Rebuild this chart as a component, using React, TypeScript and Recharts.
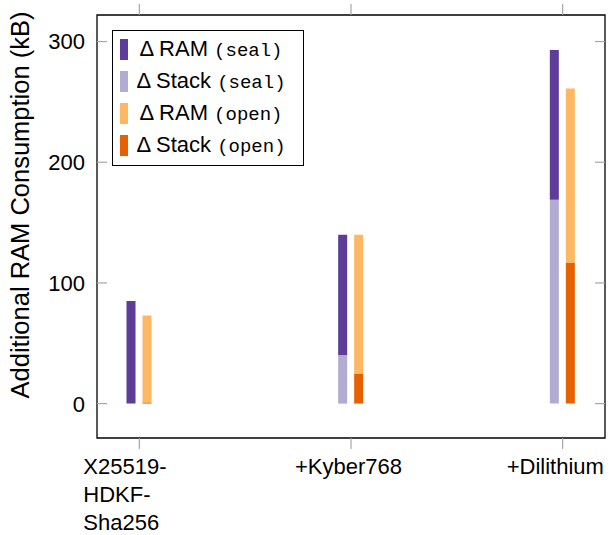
import { BarChart, Bar, XAxis, YAxis, ReferenceArea } from 'recharts'

// values (kB)
const categories = [['X25519-', 'HDKF-', 'Sha256'], ['+Kyber768'], ['+Dilithium']]
const ramSeal = [85, 140, 293]
const stackSeal = [0, 40, 169]
const ramOpen = [73, 140, 261]
const stackOpen = [1, 25, 117]

const xTicks = [0, 1, 2]
const yTicks = [0, 100, 200, 300]
const xDomain = [-0.2, 2.2]
const yDomain = [-28.5, 322]

const C_RAM_SEAL = '#5e3c99'
const C_STACK_SEAL = '#b2abd2'
const C_RAM_OPEN = '#fdb863'
const C_STACK_OPEN = '#e66101'

const SANS = '"Liberation Sans", Arial, Helvetica, sans-serif'
const MONO = '"Liberation Mono", "Courier New", monospace'

// plot box edges (px)
const PL = 97
const PR = 605
const PT = 15
const PB = 438

// stacked: stack at the bottom, remaining RAM on top
const data = categories.map((_, i) => ({
  pos: i,
  stackSeal: stackSeal[i],
  ramSeal: ramSeal[i] - stackSeal[i],
  stackOpen: stackOpen[i],
  ramOpen: ramOpen[i] - stackOpen[i],
}))

const legendItems = [
  { color: C_RAM_SEAL, label: 'RAM', mode: 'seal' },
  { color: C_STACK_SEAL, label: 'Stack', mode: 'seal' },
  { color: C_RAM_OPEN, label: 'RAM', mode: 'open' },
  { color: C_STACK_OPEN, label: 'Stack', mode: 'open' },
]

function YTick({ y, payload }: any) {
  return (
    <g>
      <line x1={PL} x2={PL + 10} y1={y} y2={y} stroke="#a6a6a6" strokeWidth={1.2} />
      <line x1={PR - 10} x2={PR} y1={y} y2={y} stroke="#a6a6a6" strokeWidth={1.2} />
      <text x={85} y={y} dy="0.36em" textAnchor="end" fontFamily={SANS} fontSize={22} fill="#000">
        {payload.value}
      </text>
    </g>
  )
}

function XTick({ x, payload }: any) {
  const lines = categories[payload.value] || []
  return (
    <g>
      <line x1={x} x2={x} y1={PB} y2={PB + 11} stroke="#a6a6a6" strokeWidth={1.2} />
      <line x1={x} x2={x} y1={PT - 11} y2={PT} stroke="#a6a6a6" strokeWidth={1.2} />
      <text x={x - 56} y={474} fontFamily={SANS} fontSize={22} fill="#000">
        {lines.map((l: string, i: number) => (
          <tspan key={i} x={x - 56} dy={i === 0 ? 0 : 28}>
            {l}
          </tspan>
        ))}
      </text>
    </g>
  )
}

export default function App() {
  return (
    <div style={{ position: 'absolute', left: 0, top: 0, width: 609, height: 535, background: '#fff' }}>
      <BarChart
        width={609}
        height={535}
        data={data}
        margin={{ top: PT, right: 609 - PR, left: 0, bottom: 0 }}
        barGap={7}
      >
        <XAxis
          type="number"
          dataKey="pos"
          domain={xDomain}
          ticks={xTicks}
          interval={0}
          height={535 - PB}
          axisLine={false}
          tickLine={false}
          tick={<XTick />}
        />
        <YAxis
          type="number"
          domain={yDomain}
          ticks={yTicks}
          interval={0}
          width={PL}
          axisLine={false}
          tickLine={false}
          tick={<YTick />}
        />
        <ReferenceArea
          x1={xDomain[0]}
          x2={xDomain[1]}
          y1={yDomain[0]}
          y2={yDomain[1]}
          fill="none"
          fillOpacity={0}
          stroke="#000"
          strokeWidth={1.3}
        />
        <Bar dataKey="stackSeal" stackId="seal" barSize={9} fill={C_STACK_SEAL} isAnimationActive={false} />
        <Bar dataKey="ramSeal" stackId="seal" barSize={9} fill={C_RAM_SEAL} isAnimationActive={false} />
        <Bar dataKey="stackOpen" stackId="open" barSize={9} fill={C_STACK_OPEN} isAnimationActive={false} />
        <Bar dataKey="ramOpen" stackId="open" barSize={9} fill={C_RAM_OPEN} isAnimationActive={false} />
      </BarChart>

      {/* y-axis title */}
      <svg width={44} height={535} style={{ position: 'absolute', left: 0, top: 0 }}>
        <text
          x={20}
          y={205}
          transform="rotate(-90 20 205)"
          textAnchor="middle"
          dominantBaseline="central"
          fontFamily={SANS}
          fontSize={25.5}
          fill="#000"
        >
          Additional RAM Consumption (kB)
        </text>
      </svg>

      {/* legend */}
      <div
        style={{
          position: 'absolute',
          left: 112,
          top: 30,
          width: 190,
          height: 132,
          border: '1px solid #000',
          background: '#fff',
          paddingTop: 2,
          boxSizing: 'content-box',
          fontFamily: SANS,
          fontSize: 22,
          color: '#000',
        }}
      >
        {legendItems.map((it, i) => (
          <div key={i} style={{ position: 'relative', height: 32 }}>
            <div
              style={{ position: 'absolute', left: 7, top: 5.5, width: 8, height: 21, background: it.color }}
            />
            <div
              style={{
                position: 'absolute',
                left: 22,
                width: 152,
                top: 0,
                height: 32,
                lineHeight: '32px',
                textAlign: 'center',
                whiteSpace: 'nowrap',
              }}
            >
              Δ {it.label} <span style={{ fontFamily: MONO, fontSize: 19 }}>({it.mode})</span>
            </div>
          </div>
        ))}
      </div>
    </div>
  )
}
